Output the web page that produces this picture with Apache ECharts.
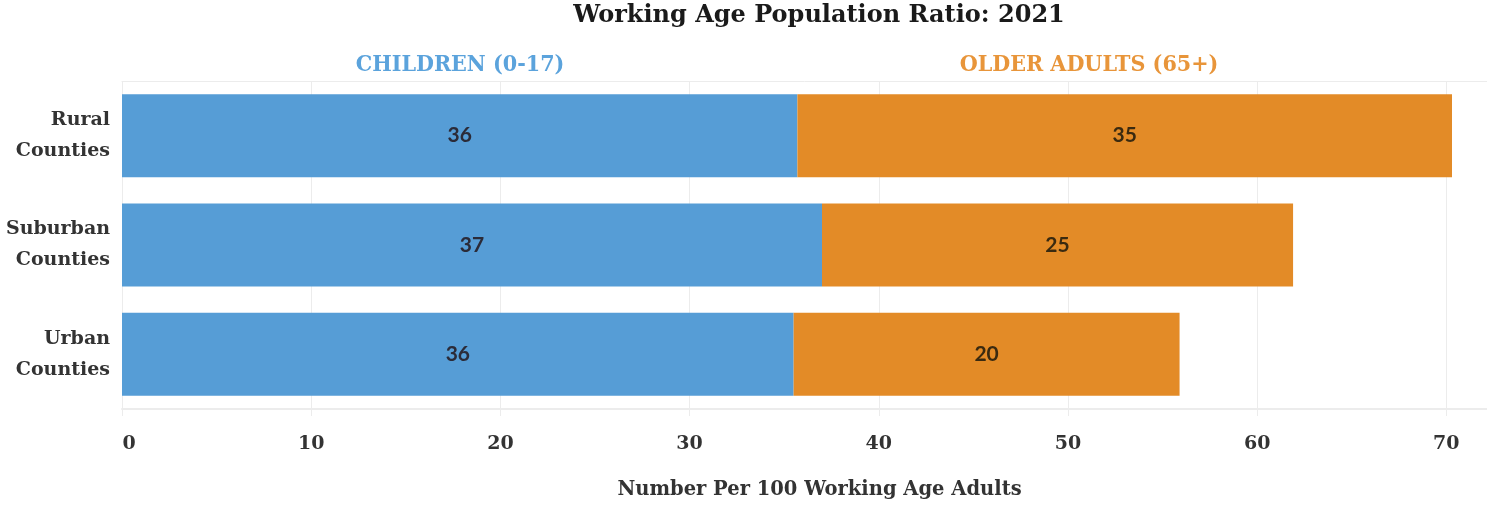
<!DOCTYPE html>
<html>
<head>
<meta charset="utf-8">
<script src="https://cdn.jsdelivr.net/npm/echarts@6/dist/echarts.min.js"></script>
<style>html,body{margin:0;padding:0;background:#fff;}#c{width:1487px;height:505px;}</style>
</head>
<body>
<div id="c"></div>
<script>
const categories = ['Rural\nCounties', 'Suburban\nCounties', 'Urban\nCounties'];
const children = [35.7, 37.0, 35.5];
const olderAdults = [34.6, 24.9, 20.4];
const xTicks = [0, 10, 20, 30, 40, 50, 60, 70];
const titleText = 'Working Age Population Ratio: 2021';
const childrenLabel = 'CHILDREN (0-17)';
const olderLabel = 'OLDER ADULTS (65+)';
const xAxisName = 'Number Per 100 Working Age Adults';

const SERIF = '"DejaVu Serif", serif';
const COND = '"DejaVu Serif Condensed", "DejaVu Serif", serif';
const chart = echarts.init(document.getElementById('c'));
const gridColor = '#ececec';
const xMax = 72.15;
chart.setOption({
  animation: false,
  backgroundColor: '#fff',
  grid: { left: 122, right: 0, top: 81, bottom: 91, containLabel: false },
  graphic: [
    { type: 'text', x: 819, y: 16, style: { text: titleText, fill: '#1a1a1a', font: 'bold 24px ' + SERIF, textAlign: 'center', textVerticalAlign: 'middle' } },
    { type: 'text', x: 460, y: 65, style: { text: childrenLabel, fill: '#5ba3dc', font: 'bold 23px ' + COND, textAlign: 'center', textVerticalAlign: 'middle' } },
    { type: 'text', x: 1089, y: 65, style: { text: olderLabel, fill: '#e8953a', font: 'bold 23px ' + COND, textAlign: 'center', textVerticalAlign: 'middle' } }
  ],
  xAxis: [{
    type: 'value', min: 0, max: xMax, interval: 10, position: 'bottom',
    name: xAxisName, nameLocation: 'middle', nameGap: 71,
    nameTextStyle: { fontFamily: SERIF, fontSize: 19.5, color: '#333', fontWeight: 'bold', padding: [0, 0, 0, 30] },
    axisLine: { show: true, lineStyle: { color: gridColor, width: 2 } },
    axisTick: { show: true, length: 7, customValues: xTicks, lineStyle: { color: gridColor } },
    axisLabel: { margin: 26, fontFamily: SERIF, fontSize: 19, color: '#333', fontWeight: 'bold', customValues: xTicks,
      formatter: v => xTicks.indexOf(v) < 0 ? '' : (v === 0 ? '{z|0}' : String(v)),
      rich: { z: { fontFamily: SERIF, fontSize: 19, color: '#333', fontWeight: 'bold', padding: [0, 0, 0, 14] } } },
    splitLine: { show: false }
  }, {
    type: 'value', min: 0, max: xMax, interval: 10, position: 'top',
    axisLine: { show: true, lineStyle: { color: gridColor, width: 1 } },
    axisTick: { show: false }, axisLabel: { show: false }, splitLine: { show: false }
  }],
  yAxis: {
    type: 'category', data: categories, inverse: true,
    axisLine: { show: false }, axisTick: { show: false }, splitLine: { show: false },
    axisLabel: { margin: 12, fontFamily: SERIF, fontSize: 19, fontWeight: 'bold', color: '#333', lineHeight: 31, align: 'right' }
  },
  series: [{
    type: 'line', data: [], z: 0, silent: true,
    markLine: {
      silent: true, z: 0, symbol: 'none', label: { show: false },
      lineStyle: { color: gridColor, width: 1, type: 'solid' },
      data: xTicks.map(v => ({ xAxis: v }))
    }
  }, {
    name: childrenLabel, type: 'bar', stack: 'total', data: children, barWidth: 83, z: 3,
    itemStyle: { color: '#569dd6' },
    label: { show: true, position: 'inside', formatter: p => Math.round(p.value), fontFamily: 'Lato, sans-serif', fontWeight: 'bold', fontSize: 21, color: '#2b2b38' }
  }, {
    name: olderLabel, type: 'bar', stack: 'total', data: olderAdults, barWidth: 83, z: 3,
    itemStyle: { color: '#e38b27' },
    label: { show: true, position: 'inside', formatter: p => Math.round(p.value), fontFamily: 'Lato, sans-serif', fontWeight: 'bold', fontSize: 21, color: '#3a2a10' }
  }]
});
</script>
</body>
</html>
